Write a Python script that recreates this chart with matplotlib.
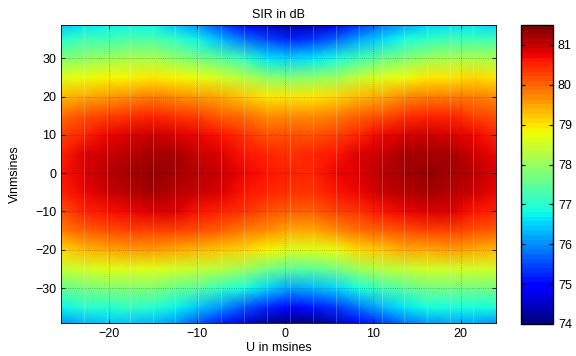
import numpy as np
import matplotlib
matplotlib.use("Agg")
import matplotlib.pyplot as plt

plt.rcParams['font.family'] = ['Liberation Sans', 'DejaVu Sans']
plt.rcParams['font.size'] = 9

# grid of the SIR map (U across, V up), values in dB
u_msines = [-25.4, -22.8, -20.2, -17.6, -15.0, -12.4, -9.8, -7.2, -4.6, -2.0,
            0.6, 3.2, 5.8, 8.4, 11.0, 13.6, 16.2, 18.8, 21.4, 24.0]
v_msines = [-39.2, -35, -30, -25, -20, -15, -10, -5, 0, 5, 10, 15, 20, 25, 30, 35, 38.7]

sir_db = [
    [76.1, 76.3, 76.4, 76.4, 76.3, 76.0, 75.6, 75.1, 74.6, 74.2, 74.05, 74.1, 74.4, 74.9, 75.4, 75.8, 76.1, 76.2, 76.2, 76.1],
    [76.8, 76.95, 77.04, 77.05, 76.98, 76.75, 76.42, 76.03, 75.61, 75.24, 75.04, 75.09, 75.37, 75.82, 76.25, 76.58, 76.82, 76.9, 76.9, 76.82],
    [77.6, 77.7, 77.81, 77.83, 77.79, 77.63, 77.41, 77.14, 76.82, 76.47, 76.22, 76.28, 76.52, 76.91, 77.25, 77.5, 77.67, 77.73, 77.73, 77.67],
    [78.4, 78.5, 78.58, 78.61, 78.6, 78.52, 78.39, 78.26, 78.02, 77.71, 77.4, 77.47, 77.67, 78.0, 78.26, 78.42, 78.53, 78.57, 78.57, 78.53],
    [79.15, 79.3, 79.45, 79.52, 79.55, 79.48, 79.35, 79.25, 79.09, 78.88, 78.58, 78.65, 78.8, 79.05, 79.25, 79.4, 79.49, 79.51, 79.45, 79.36],
    [79.8, 80.0, 80.15, 80.26, 80.32, 80.25, 80.11, 79.99, 79.81, 79.63, 79.43, 79.49, 79.63, 79.86, 80.06, 80.21, 80.28, 80.27, 80.15, 80.01],
    [80.2, 80.5, 80.65, 80.78, 80.86, 80.81, 80.66, 80.52, 80.33, 80.17, 80.03, 80.08, 80.22, 80.44, 80.64, 80.79, 80.85, 80.81, 80.65, 80.48],
    [80.5, 80.75, 80.95, 81.1, 81.19, 81.14, 80.99, 80.84, 80.65, 80.49, 80.38, 80.43, 80.58, 80.78, 80.98, 81.13, 81.19, 81.14, 80.95, 80.76],
    [80.6, 80.85, 81.05, 81.2, 81.3, 81.25, 81.1, 80.95, 80.75, 80.6, 80.5, 80.55, 80.7, 80.9, 81.1, 81.25, 81.3, 81.25, 81.05, 80.85],
    [80.5, 80.8, 81.0, 81.11, 81.21, 81.16, 81.0, 80.86, 80.65, 80.5, 80.4, 80.45, 80.6, 80.8, 81.0, 81.15, 81.21, 81.16, 80.97, 80.78],
    [80.3, 80.5, 80.7, 80.84, 80.93, 80.87, 80.72, 80.57, 80.36, 80.21, 80.12, 80.17, 80.31, 80.5, 80.7, 80.86, 80.92, 80.9, 80.73, 80.56],
    [79.9, 80.1, 80.24, 80.38, 80.46, 80.4, 80.24, 80.09, 79.88, 79.72, 79.64, 79.69, 79.81, 80.0, 80.2, 80.37, 80.45, 80.45, 80.32, 80.19],
    [79.3, 79.5, 79.62, 79.74, 79.81, 79.74, 79.56, 79.43, 79.2, 79.03, 78.97, 79.02, 79.12, 79.31, 79.5, 79.68, 79.8, 79.83, 79.76, 79.67],
    [78.6, 78.7, 78.81, 78.92, 78.97, 78.89, 78.7, 78.54, 78.23, 77.94, 77.85, 77.93, 78.1, 78.36, 78.6, 78.8, 78.95, 79.03, 79.04, 79.01],
    [77.8, 77.9, 78.03, 78.11, 78.11, 77.98, 77.71, 77.43, 77.05, 76.69, 76.55, 76.64, 76.89, 77.25, 77.58, 77.85, 78.04, 78.14, 78.16, 78.14],
    [77.0, 77.2, 77.26, 77.33, 77.3, 77.07, 76.73, 76.32, 75.87, 75.43, 75.26, 75.35, 75.69, 76.13, 76.56, 76.9, 77.16, 77.25, 77.26, 77.2],
    [76.4, 76.6, 76.7, 76.75, 76.7, 76.4, 76.0, 75.5, 75.0, 74.5, 74.3, 74.4, 74.8, 75.3, 75.8, 76.2, 76.5, 76.6, 76.6, 76.5],
]

cbar_ticks = [74, 75, 76, 77, 78, 79, 80, 81]

fig = plt.figure(figsize=(5.76, 3.56), dpi=100)
ax = fig.add_axes([0.1059, 0.0919, 0.7552, 0.838])
cax = fig.add_axes([0.9045, 0.0899, 0.0556, 0.840])

U, V = np.meshgrid(u_msines, v_msines)
mesh = ax.pcolormesh(U, V, np.array(sir_db), shading='gouraud',
                     cmap=plt.get_cmap('jet', 64), vmin=74, vmax=81.5)

# faint facet edges like the matlab surface
ax.vlines(u_msines, v_msines[0], v_msines[-1], colors='white', alpha=0.25, lw=0.6)

ax.set_xlim(u_msines[0], u_msines[-1])
ax.set_ylim(v_msines[0], v_msines[-1])
ax.set_xticks([-20, -10, 0, 10, 20])
ax.set_yticks([-30, -20, -10, 0, 10, 20, 30])
ax.tick_params(direction='in', top=True, right=True, length=3, width=0.6)
ax.grid(True, linestyle=':', color='k', alpha=0.35, lw=0.6)
for s in ax.spines.values():
    s.set_linewidth(0.6)

ax.set_title('SIR in dB', fontsize=9, pad=5)
ax.set_xlabel('U in msines', fontsize=9, labelpad=1)
ax.set_ylabel('Vinmsines', fontsize=9, labelpad=10)

cb = fig.colorbar(mesh, cax=cax, ticks=cbar_ticks)
cb.ax.tick_params(direction='in', left=True, right=True, length=3, width=0.8, labelsize=9)
cb.outline.set_linewidth(1.0)

fig.savefig('out.png', dpi=100)
